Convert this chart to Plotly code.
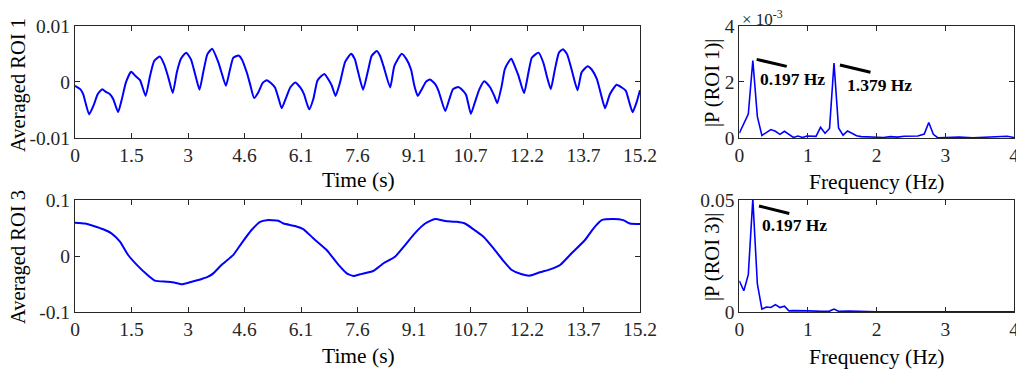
import plotly.graph_objects as go

# ---------------- data ----------------
t_roi1 = [0.00, 0.14, 0.22, 0.38, 0.50, 0.61, 0.73, 0.83, 0.94, 1.03, 1.16, 1.26, 1.37, 1.51, 1.62,
          1.75, 1.90, 2.02, 2.13, 2.28, 2.40, 2.51, 2.63, 2.74, 2.85, 2.99, 3.12, 3.23, 3.35, 3.45,
          3.56, 3.69, 3.85, 3.94, 4.06, 4.17, 4.26, 4.40, 4.49, 4.62, 4.71, 4.82, 4.93, 5.05, 5.16,
          5.27, 5.38, 5.47, 5.56, 5.68, 5.79, 5.92, 6.06, 6.16, 6.30, 6.41, 6.52, 6.62, 6.71, 6.81,
          6.91, 7.01, 7.13, 7.27, 7.43, 7.53, 7.60, 7.75, 7.89, 7.98, 8.12, 8.21, 8.30, 8.48, 8.59,
          8.79, 8.92, 9.04, 9.13, 9.22, 9.33, 9.44, 9.55, 9.69, 9.78, 9.96, 10.07, 10.17, 10.31, 10.40,
          10.52, 10.65, 10.76, 10.88, 11.01, 11.17, 11.28, 11.36, 11.48, 11.56, 11.65, 11.74, 11.83, 11.93, 12.08,
          12.20, 12.29, 12.47, 12.60, 12.69, 12.80, 12.91, 13.02, 13.13, 13.24, 13.36, 13.52, 13.63, 13.79, 13.90,
          14.04, 14.15, 14.26, 14.39, 14.57, 14.71, 14.82, 14.91, 15.00, 15.11, 15.20]
v_roi1 = [-0.0007, -0.0013, -0.0022, -0.0058, -0.0042, -0.0022, -0.0013, -0.0018, -0.0022, -0.0031, -0.0054, -0.0031, -0.0001, 0.0018, 0.0011,
          0.0003, -0.0025, 0.0011, 0.0037, 0.0045, 0.0031, 0.0008, -0.0020, 0.0017, 0.0041, 0.0052, 0.0040, 0.0014, -0.0014, 0.0017,
          0.0049, 0.0059, 0.0036, 0.0017, -0.0007, 0.0022, 0.0043, 0.0047, 0.0040, 0.0017, -0.0004, -0.0029, -0.0019, -0.0002, 0.0003,
          -0.0002, -0.0010, -0.0028, -0.0047, -0.0028, -0.0010, -0.0001, -0.0010, -0.0022, -0.0049, -0.0031, 0.0002, 0.0010, 0.0014, 0.0005,
          -0.0007, -0.0025, -0.0001, 0.0036, 0.0050, 0.0040, 0.0022, -0.0014, 0.0022, 0.0046, 0.0055, 0.0046, 0.0028, -0.0010, 0.0028,
          0.0050, 0.0040, 0.0022, -0.0007, -0.0025, -0.0013, 0.0000, 0.0004, -0.0004, -0.0016, -0.0052, -0.0031, -0.0013, -0.0009, -0.0013,
          -0.0023, -0.0057, -0.0036, -0.0013, 0.0001, -0.0010, -0.0025, -0.0038, -0.0007, 0.0022, 0.0034, 0.0041, 0.0028, 0.0011, -0.0020,
          0.0017, 0.0043, 0.0052, 0.0034, 0.0011, -0.0013, 0.0022, 0.0052, 0.0058, 0.0049, 0.0022, -0.0015, 0.0017, 0.0028, 0.0022,
          0.0005, -0.0022, -0.0047, -0.0022, -0.0005, -0.0010, -0.0016, -0.0036, -0.0054, -0.0036, -0.0015]

t_roi3 = [0.00, 0.27, 0.50, 0.76, 0.98, 1.21, 1.43, 1.71, 1.93, 2.15, 2.47, 2.69, 2.87, 3.14, 3.41,
          3.58, 3.72, 3.94, 4.26, 4.48, 4.75, 4.98, 5.16, 5.47, 5.61, 5.92, 6.15, 6.41, 6.77, 7.09,
          7.31, 7.49, 7.67, 8.02, 8.30, 8.61, 8.88, 9.14, 9.42, 9.69, 9.96, 10.27, 10.49, 10.72, 10.99,
          11.26, 11.53, 11.75, 12.02, 12.24, 12.51, 12.78, 13.05, 13.36, 13.72, 13.95, 14.17, 14.48, 14.75, 14.93, 15.20]
v_roi3 = [0.0595, 0.058, 0.0536, 0.0477, 0.0405, 0.0256, 0.0018, -0.019, -0.0327, -0.044, -0.046, -0.0477, -0.0506, -0.046, -0.041,
          -0.037, -0.031, -0.016, 0.002, 0.0227, 0.0464, 0.061, 0.064, 0.063, 0.058, 0.0536, 0.0477, 0.0316, 0.0107, -0.016,
          -0.031, -0.0357, -0.0327, -0.0268, -0.013, -0.0013, 0.0196, 0.0405, 0.058, 0.066, 0.0625, 0.061, 0.058, 0.0477, 0.0345,
          0.0137, -0.009, -0.025, -0.0327, -0.035, -0.029, -0.0238, -0.016, 0.0048, 0.0286, 0.0495, 0.064, 0.066, 0.064, 0.058, 0.057]

f_p1 = [0.000, 0.131, 0.197, 0.263, 0.329, 0.394, 0.460, 0.526, 0.591, 0.657, 0.723, 0.788, 0.854, 0.920, 0.986,
        1.051, 1.117, 1.183, 1.248, 1.314, 1.379, 1.445, 1.511, 1.576, 1.642, 1.708, 1.774, 1.840, 1.905, 2.0,
        2.1, 2.2, 2.3, 2.4, 2.5, 2.6, 2.693, 2.759, 2.825, 2.890, 3.0, 3.2, 3.4, 3.6, 3.8, 3.9, 4.0]
p_roi1 = [0.17e-3, 0.85e-3, 2.76e-3, 0.76e-3, 0.09e-3, 0.18e-3, 0.30e-3, 0.24e-3, 0.13e-3, 0.24e-3, 0.12e-3, 0.02e-3, 0.07e-3, 0.02e-3, 0.07e-3,
          0.06e-3, 0.06e-3, 0.38e-3, 0.17e-3, 0.34e-3, 2.67e-3, 0.36e-3, 0.10e-3, 0.25e-3, 0.15e-3, 0.08e-3, 0.05e-3, 0.04e-3, 0.03e-3, 0.03e-3,
          0.02e-3, 0.05e-3, 0.03e-3, 0.06e-3, 0.06e-3, 0.07e-3, 0.14e-3, 0.55e-3, 0.13e-3, 0.01e-3, 0.02e-3, 0.03e-3, 0.01e-3, 0.02e-3, 0.03e-3, 0.06e-3, 0.02e-3]

f_p3 = [0.000, 0.066, 0.131, 0.197, 0.263, 0.329, 0.394, 0.460, 0.526, 0.591, 0.657, 0.723, 0.788, 0.9, 1.0,
        1.2, 1.314, 1.379, 1.445, 1.6, 1.8, 2.0, 2.5, 2.8, 3.0, 3.5, 4.0]
p_roi3 = [0.0139, 0.0095, 0.0167, 0.0505, 0.0125, 0.0013, 0.0022, 0.0020, 0.0033, 0.0020, 0.0026, 0.0005, 0.0006, 0.0004, 0.0005,
          0.0003, 0.0004, 0.0013, 0.0003, 0.0004, 0.0002, 0.0001, 0.0001, 0.0002, 0.0001, 0.0001, 0.0001]

time_tickvals = [0, 1.52, 3.04, 4.56, 6.08, 7.6, 9.12, 10.64, 12.16, 13.68, 15.2]
time_ticktext = ['0', '1.5', '3', '4.6', '6.1', '7.6', '9.1', '10.7', '12.2', '13.7', '15.2']
freq_tickvals = [0, 1, 2, 3, 4]

# ---------------- figure ----------------
OFF = 8                      # page body margin of the written html
W, H = 1024 - OFF, 375 - OFF
FONT = "Liberation Serif"
AX = "#262626"
BLUE = "#0000FF"

def px_x(p):
    return (p - OFF) / W

def px_y(p):
    return 1 - (p - OFF) / H

fig = go.Figure()
fig.add_trace(go.Scatter(x=t_roi1, y=v_roi1, mode="lines", line=dict(color=BLUE, width=2, shape="spline", smoothing=0.5),
                         xaxis="x", yaxis="y"))
fig.add_trace(go.Scatter(x=f_p1, y=p_roi1, mode="lines", line=dict(color=BLUE, width=1.6), xaxis="x2", yaxis="y2"))
fig.add_trace(go.Scatter(x=t_roi3, y=v_roi3, mode="lines", line=dict(color=BLUE, width=2, shape="spline", smoothing=0.5),
                         xaxis="x3", yaxis="y3"))
fig.add_trace(go.Scatter(x=f_p3, y=p_roi3, mode="lines", line=dict(color=BLUE, width=1.6), xaxis="x4", yaxis="y4"))

common = dict(showgrid=False, zeroline=False, showline=True, linecolor=AX, linewidth=1, automargin=False,
              mirror="ticks", ticks="inside", ticklen=5, tickcolor=AX, tickwidth=1,
              tickfont=dict(family=FONT, size=19.5, color=AX))

left_dom = [px_x(75), px_x(640)]
right_dom = [px_x(739.3), px_x(1014)]
top_dom = [px_y(138), px_y(25.7)]
bot_dom = [px_y(312), px_y(200)]

fig.update_layout(
    template="none",
    width=W, height=H, margin=dict(l=0, r=0, t=0, b=0, pad=0), autosize=False,
    paper_bgcolor="white", plot_bgcolor="white", showlegend=False,
    xaxis=dict(domain=left_dom, anchor="y", range=[0, 15.2], tickvals=time_tickvals, ticktext=time_ticktext, **common),
    yaxis=dict(domain=top_dom, anchor="x", range=[-0.01, 0.01], tickvals=[-0.01, 0, 0.01], ticktext=["-0.01", "0", "0.01"], **common),
    xaxis2=dict(domain=right_dom, anchor="y2", range=[0, 4], tickvals=freq_tickvals, **common),
    yaxis2=dict(domain=top_dom, anchor="x2", range=[0, 0.004], tickvals=[0, 0.002, 0.004], ticktext=["0", "2", "4"], **common),
    xaxis3=dict(domain=left_dom, anchor="y3", range=[0, 15.2], tickvals=time_tickvals, ticktext=time_ticktext, **common),
    yaxis3=dict(domain=bot_dom, anchor="x3", range=[-0.1, 0.1], tickvals=[-0.1, 0, 0.1], ticktext=["-0.1", "0", "0.1"], **common),
    xaxis4=dict(domain=right_dom, anchor="y4", range=[0, 4], tickvals=freq_tickvals, **common),
    yaxis4=dict(domain=bot_dom, anchor="x4", range=[0, 0.05], tickvals=[0, 0.05], ticktext=["0", "0.05"], **common),
)

ann = []
def title(text, x, y, angle=0, size=21.5):
    ann.append(dict(text=text, xref="paper", yref="paper", x=x, y=y, showarrow=False,
                    xanchor="center", yanchor="middle", textangle=angle,
                    font=dict(family=FONT, size=size, color="black")))

title("Averaged ROI 1", px_x(18), px_y(85), -90, 20.5)
title("Averaged ROI 3", px_x(18), px_y(257), -90, 20.5)
title("|P (ROI 1)|", px_x(712), px_y(83), -90, 20.5)
title("|P (ROI 3)|", px_x(712), px_y(257), -90, 20.5)
title("Time (s)", px_x(358), px_y(180))
title("Time (s)", px_x(358), px_y(356))
title("Frequency (Hz)", px_x(877), px_y(182))
title("Frequency (Hz)", px_x(877), px_y(357))

ann.append(dict(text="× 10<sup>-3</sup>", xref="paper", yref="paper", x=px_x(740), y=px_y(18),
                showarrow=False, xanchor="left", yanchor="middle", font=dict(family=FONT, size=17, color=AX)))

lab_font = dict(family=FONT, size=17.5, color="black")
ann.append(dict(text="<b>0.197 Hz</b>", xref="x2", yref="y2", x=0.775, y=2.1e-3, showarrow=False,
                xanchor="center", yanchor="middle", font=lab_font))
ann.append(dict(text="<b>1.379 Hz</b>", xref="x2", yref="y2", x=2.04, y=1.88e-3, showarrow=False,
                xanchor="center", yanchor="middle", font=lab_font))
ann.append(dict(text="<b>0.197 Hz</b>", xref="x4", yref="y4", x=0.807, y=0.0388, showarrow=False,
                xanchor="center", yanchor="middle", font=lab_font))
fig.update_layout(annotations=ann)

shp_line = dict(color="black", width=3)
fig.add_shape(type="line", xref="x2", yref="y2", x0=0.253, y0=2.8e-3, x1=0.69, y1=2.55e-3, line=shp_line)
fig.add_shape(type="line", xref="x2", yref="y2", x0=1.465, y0=2.6e-3, x1=1.91, y1=2.34e-3, line=shp_line)
fig.add_shape(type="line", xref="x4", yref="y4", x0=0.287, y0=0.0473, x1=0.728, y1=0.044, line=shp_line)

fig.write_html("out.html")
